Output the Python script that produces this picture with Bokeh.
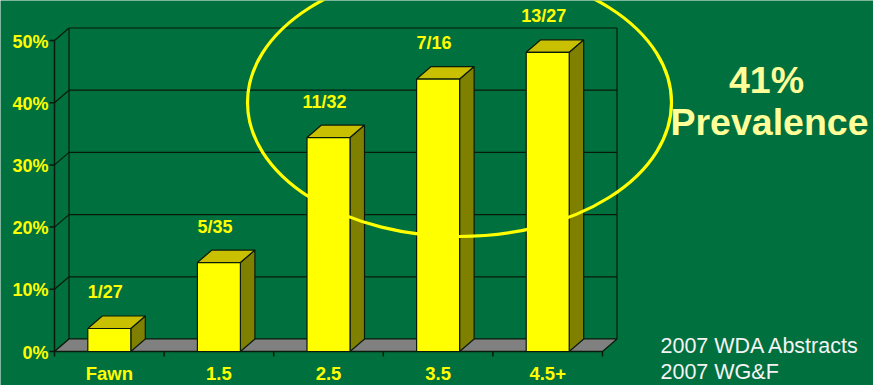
from bokeh.plotting import figure
from bokeh.models import Range1d
from bokeh.embed import file_html
from bokeh.resources import INLINE
from bokeh.core.properties import value

# ---- data ----
categories = ["Fawn", "1.5", "2.5", "3.5", "4.5+"]
bar_labels = ["1/27", "5/35", "11/32", "7/16", "13/27"]
prevalence = [3.7, 14.3, 34.4, 43.8, 48.1]          # percent
y_ticks = [0, 10, 20, 30, 40, 50]
y_tick_labels = ["0%", "10%", "20%", "30%", "40%", "50%"]
headline = ["41%", "Prevalence"]
sources = ["2007 WDA Abstracts", "2007 WG&F"]

# ---- layout / style ----
W, H = 873, 385
X0, Y0 = 54.0, 351.0          # pixel of (category 0, 0%)
PX_CAT, PX_PCT = 109.6, 6.22  # pixels per category, per percent
DX = 14.5 / PX_CAT            # depth offset (x) in category units
DY = 12.5 / PX_PCT            # depth offset (y) in percent units
HW = 21.5 / PX_CAT            # half bar width
GREEN = "#01703F"
LINE = "#0a1a0a"
FONT = value("Liberation Sans")

n = len(categories)
p = figure(width=W, height=H, output_backend="svg", toolbar_location=None,
           x_range=Range1d(-X0 / PX_CAT, (W - X0) / PX_CAT),
           y_range=Range1d(-(H - Y0) / PX_PCT, Y0 / PX_PCT),
           x_axis_location=None, y_axis_location=None, min_border=0,
           background_fill_color=GREEN, border_fill_color=GREEN,
           outline_line_color=None)
p.grid.visible = False

top = y_ticks[-1]
# back wall gridlines
p.segment(x0=[DX] * len(y_ticks), y0=[t + DY for t in y_ticks],
          x1=[n + DX] * len(y_ticks), y1=[t + DY for t in y_ticks],
          line_color=LINE, line_width=1.2)
# back vertical edges
p.segment(x0=[DX, n + DX], y0=[DY, DY], x1=[DX, n + DX], y1=[top + DY, top + DY],
          line_color=LINE, line_width=1.2)
# left wall diagonals
p.segment(x0=[0] * len(y_ticks), y0=y_ticks, x1=[DX] * len(y_ticks),
          y1=[t + DY for t in y_ticks], line_color=LINE, line_width=1.2)
# floor
p.patch([0, n, n + DX, DX], [0, 0, DY, DY], fill_color="#808080",
        line_color=LINE, line_width=1.2)
# front left axis + ticks
p.segment(x0=[0], y0=[0], x1=[0], y1=[top], line_color=LINE, line_width=1.5)
p.segment(x0=[-5 / PX_CAT] * len(y_ticks), y0=y_ticks, x1=[0] * len(y_ticks), y1=y_ticks,
          line_color=LINE, line_width=1.5)
# bottom axis + ticks
p.segment(x0=[0], y0=[0], x1=[n], y1=[0], line_color=LINE, line_width=1.5)
p.segment(x0=list(range(n + 1)), y0=[0] * (n + 1), x1=list(range(n + 1)),
          y1=[-5 / PX_PCT] * (n + 1), line_color=LINE, line_width=1.5)

# bars
centers = [i + 0.5 for i in range(n)]
front_x, front_y, top_x, top_y, side_x, side_y = [], [], [], [], [], []
for c, v in zip(centers, prevalence):
    l, r = c - HW, c + HW
    front_x.append([l, r, r, l]); front_y.append([0, 0, v, v])
    top_x.append([l, r, r + DX, l + DX]); top_y.append([v, v, v + DY, v + DY])
    side_x.append([r, r + DX, r + DX, r]); side_y.append([0, DY, v + DY, v])
p.patches(side_x, side_y, fill_color="#808000", line_color=LINE, line_width=1.2)
p.patches(top_x, top_y, fill_color="#C8C000", line_color=LINE, line_width=1.2)
p.patches(front_x, front_y, fill_color="#FFFF00", line_color=LINE, line_width=1.2)

# bar labels
p.text(x=centers, y=prevalence, text=bar_labels, x_offset=-4, y_offset=-36,
       text_align="center", text_baseline="middle", text_font=FONT,
       text_font_style="bold", text_font_size="18px", text_color="#FFFF00")
# y tick labels
p.text(x=[0] * len(y_ticks), y=y_ticks, text=y_tick_labels, x_offset=-6, y_offset=1,
       text_align="right", text_baseline="middle", text_font=FONT,
       text_font_style="bold", text_font_size="18px", text_color="#FFFF00")
# category labels
p.text(x=centers, y=[0] * n, text=categories, y_offset=22,
       text_align="center", text_baseline="middle", text_font=FONT,
       text_font_style="bold", text_font_size="18.5px", text_color="#FFFF00")

# highlight ellipse around older age classes
p.ellipse(x=[(459 - X0) / PX_CAT], y=[(Y0 - 102) / PX_PCT],
          width=[424 / PX_CAT], height=[268 / PX_PCT],
          fill_color=None, line_color="#FFFF00", line_width=3.2)

# headline text
p.text(x=[(766 - X0) / PX_CAT, (769 - X0) / PX_CAT],
       y=[(Y0 - 79) / PX_PCT, (Y0 - 121) / PX_PCT], text=headline,
       text_align="center", text_baseline="middle", text_font=FONT,
       text_font_style="bold", text_font_size="37.5px", text_color="#FFFF99")
# sources
p.text(x=[(660 - X0) / PX_CAT] * 2, y=[(Y0 - 345) / PX_PCT, (Y0 - 371) / PX_PCT],
       text=sources, text_align="left", text_baseline="alphabetic", text_font=FONT,
       text_font_size="21.5px", text_color="#F4F4F4")

TEMPLATE = """{% extends "file.html" %}
{% block preamble %}<style>html, body { margin: 0 !important; padding: 0 !important; background: #01703F !important; overflow: hidden; }</style>{% endblock %}
"""
try:
    html = file_html(p, INLINE, template=TEMPLATE)
except Exception:
    html = file_html(p, INLINE)
open("out.html", "w").write(html)
